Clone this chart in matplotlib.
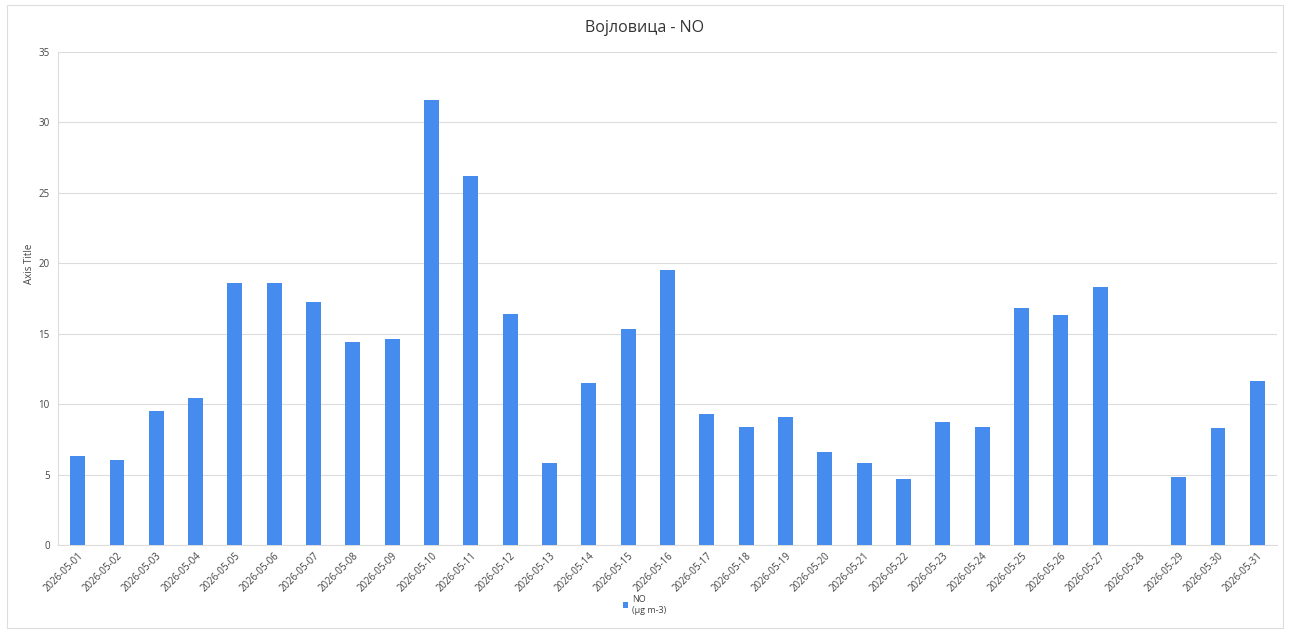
import matplotlib
matplotlib.use("Agg")
import matplotlib.pyplot as plt
import numpy as np
from matplotlib.patches import Rectangle

plt.rcParams['font.family'] = ['Open Sans', 'DejaVu Sans']

# dates of May 2026 and NO values (ug/m3), 05-28 has no data
dates = ["2026-05-%02d" % d for d in range(1, 32)]
no_values = [6.3, 6.05, 9.5, 10.45, 18.6, 18.6, 17.25, 14.4, 14.6, 31.6,
             26.2, 16.4, 5.85, 11.5, 15.3, 19.5, 9.3, 8.4, 9.1, 6.6,
             5.85, 4.7, 8.7, 8.4, 16.85, 16.35, 18.35, np.nan, 4.8, 8.3, 11.65]
y_ticks = [0, 5, 10, 15, 20, 25, 30, 35]

fig = plt.figure(figsize=(12.89, 6.33), dpi=100)
ax = fig.add_axes([58/1289, 1 - 545/633, (1277-58)/1289, (545-52)/633])

x = np.arange(len(dates))
ax.bar(x, no_values, width=0.38, color='#468cef', zorder=3, label='NO\n(µg m-3)')

ax.set_xlim(-0.5, len(dates) - 0.5)
ax.set_ylim(0, 35)
ax.set_yticks(y_ticks)
ax.set_xticks(x)
ax.set_xticklabels(dates, rotation=45, ha='right', rotation_mode='anchor',
                   fontsize=7, color='#444444')
ax.tick_params(axis='y', labelsize=7, colors='#444444', length=0, pad=6)
ax.tick_params(axis='x', length=0, pad=4)
ax.grid(axis='y', color='#dcdcdc', linewidth=0.8, zorder=0)

for s in ['top', 'right']:
    ax.spines[s].set_visible(False)
ax.spines['left'].set_color('#dcdcdc')
ax.spines['bottom'].set_color('#dcdcdc')

ax.set_ylabel('Axis Title', fontsize=7, color='#444444')
ax.yaxis.set_label_coords(-23/1219, 0.57)
fig.text(0.5, 1 - 28/633, 'Војловица - NO', ha='center', va='center',
         fontsize=11.5, color='#333333')

fig.legend(loc='center', bbox_to_anchor=(0.5, 1 - 605/633), frameon=False,
           fontsize=6.5, handlelength=0.6, handleheight=0.6, handletextpad=0.4,
           labelcolor='#444444')

fig.patches.append(Rectangle((7/1289, 5/633), 1 - 13/1289, 1 - 10/633,
                             transform=fig.transFigure, fill=False,
                             edgecolor='#dddddd', linewidth=0.8))

fig.savefig('out.png', dpi=100)
